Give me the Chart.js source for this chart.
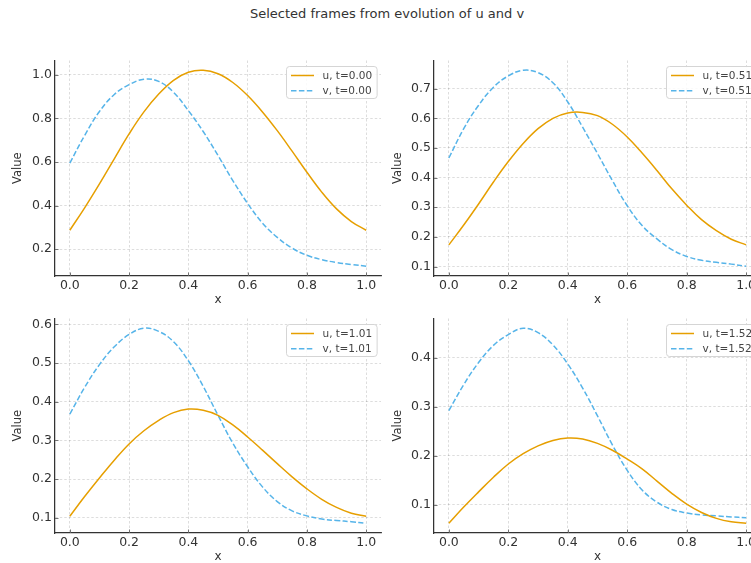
<!DOCTYPE html>
<html>
<head>
<meta charset="utf-8">
<script src="https://cdn.jsdelivr.net/npm/chart.js@4/dist/chart.umd.min.js"></script>
<style>
  html, body { margin: 0; padding: 0; background: #fff; }
  #fig { position: relative; width: 751px; height: 563px; overflow: hidden; background: #fff; }
  #title { position: absolute; left: 387px; top: 6px; transform: translateX(-50%); white-space: nowrap;
           font: 13px "DejaVu Sans", sans-serif; line-height: 16px; color: #333; }
  canvas { position: absolute; }
</style>
</head>
<body>
<div id="fig">
  <div id="title">Selected frames from evolution of u and v</div>
  <canvas id="p0" width="395" height="260" style="left:0px;top:50px"></canvas>
  <canvas id="p1" width="395" height="260" style="left:380px;top:50px"></canvas>
  <canvas id="p2" width="395" height="259" style="left:0px;top:308px"></canvas>
  <canvas id="p3" width="395" height="259" style="left:380px;top:308px"></canvas>
</div>
<script>
// Sample positions along x and tick values
const xValues = [0, 0.05, 0.1, 0.15, 0.2, 0.25, 0.3, 0.35, 0.4, 0.45, 0.5,
                 0.55, 0.6, 0.65, 0.7, 0.75, 0.8, 0.85, 0.9, 0.95, 1.0];
const xTicks = [0, 0.2, 0.4, 0.6, 0.8, 1.0];
const frameTimes = ['0.00', '0.51', '1.01', '1.52'];

// Frame t = 0.00
const u0 = [0.287, 0.39, 0.50, 0.615, 0.729, 0.83, 0.912, 0.975, 1.012, 1.021, 1.005,
            0.965, 0.905, 0.83, 0.744, 0.65, 0.553, 0.462, 0.385, 0.327, 0.287];
const v0 = [0.595, 0.722, 0.832, 0.91, 0.955, 0.98, 0.97, 0.92, 0.836, 0.74, 0.63,
            0.515, 0.41, 0.32, 0.254, 0.205, 0.172, 0.152, 0.139, 0.13, 0.122];
// Frame t = 0.51
const u1 = [0.173, 0.24, 0.311, 0.385, 0.454, 0.515, 0.565, 0.600, 0.618, 0.620, 0.609,
            0.580, 0.537, 0.483, 0.424, 0.362, 0.307, 0.258, 0.221, 0.192, 0.173];
const v1 = [0.466, 0.565, 0.644, 0.705, 0.743, 0.762, 0.754, 0.72, 0.655, 0.57, 0.481,
            0.39, 0.305, 0.238, 0.193, 0.157, 0.134, 0.121, 0.114, 0.108, 0.101];
// Frame t = 1.01
const u2 = [0.104, 0.155, 0.203, 0.249, 0.291, 0.325, 0.352, 0.372, 0.381, 0.378, 0.365,
            0.34, 0.309, 0.275, 0.24, 0.206, 0.175, 0.148, 0.127, 0.112, 0.104];
const v2 = [0.368, 0.437, 0.496, 0.542, 0.574, 0.590, 0.582, 0.555, 0.506, 0.44, 0.365,
            0.293, 0.232, 0.18, 0.142, 0.118, 0.105, 0.097, 0.093, 0.09, 0.086];
// Frame t = 1.52
const u3 = [0.062, 0.095, 0.126, 0.156, 0.183, 0.204, 0.220, 0.231, 0.236, 0.234, 0.225,
            0.211, 0.193, 0.173, 0.148, 0.123, 0.101, 0.084, 0.072, 0.065, 0.062];
const v3 = [0.292, 0.345, 0.39, 0.425, 0.447, 0.46, 0.451, 0.426, 0.387, 0.338, 0.281,
            0.222, 0.17, 0.13, 0.105, 0.09, 0.083, 0.079, 0.077, 0.075, 0.073];

const yTicks0 = [0.2, 0.4, 0.6, 0.8, 1.0];
const yTicks1 = [0.1, 0.2, 0.3, 0.4, 0.5, 0.6, 0.7];
const yTicks2 = [0.1, 0.2, 0.3, 0.4, 0.5, 0.6];
const yTicks3 = [0.1, 0.2, 0.3, 0.4];

const ORANGE = '#E69F00';
const BLUE = '#56B4E9';
const TEXT = '#333';
const FONT = '"DejaVu Sans", sans-serif';

// Legend drawn inside the plot area, top-right corner
const insideLegend = {
  id: 'insideLegend',
  afterDatasetsDraw(chart) {
    const { ctx, chartArea } = chart;
    const sets = chart.data.datasets;
    ctx.save();
    ctx.font = '10.5px ' + FONT;
    const tw = Math.max(...sets.map(d => ctx.measureText(d.label).width));
    const w = 36 + tw + 5, h = 32;
    const x = Math.round(chartArea.right - 4.5 - w) + 0.5;
    const y = Math.round(chartArea.top + 5) + 0.5;
    ctx.beginPath();
    ctx.roundRect(x, y, w, h, 3);
    ctx.fillStyle = 'rgba(255,255,255,0.85)';
    ctx.fill();
    ctx.strokeStyle = '#d5d5d5';
    ctx.lineWidth = 1;
    ctx.stroke();
    sets.forEach((d, i) => {
      const cy = y + 9 + i * 15.3;
      ctx.beginPath();
      ctx.setLineDash(d.borderDash || []);
      ctx.strokeStyle = d.borderColor;
      ctx.lineWidth = 1.5;
      ctx.moveTo(x + 4.5, cy);
      ctx.lineTo(x + 27.5, cy);
      ctx.stroke();
      ctx.setLineDash([]);
      ctx.fillStyle = '#444';
      ctx.textBaseline = 'middle';
      ctx.textAlign = 'left';
      ctx.fillText(d.label, x + 36, cy + 0.5);
    });
    ctx.restore();
  }
};

// Short inward tick marks on the left and bottom spines
const innerTicks = {
  id: 'innerTicks',
  afterDraw(chart) {
    const { ctx, chartArea, scales } = chart;
    ctx.save();
    ctx.strokeStyle = '#666';
    ctx.lineWidth = 0.9;
    ctx.beginPath();
    scales.x.ticks.forEach(t => {
      const px = Math.round(scales.x.getPixelForValue(t.value)) + 0.5;
      ctx.moveTo(px, chartArea.bottom);
      ctx.lineTo(px, chartArea.bottom - 3.5);
    });
    scales.y.ticks.forEach(t => {
      const py = Math.round(scales.y.getPixelForValue(t.value)) + 0.5;
      ctx.moveTo(chartArea.left, py);
      ctx.lineTo(chartArea.left + 3.5, py);
    });
    ctx.stroke();
    ctx.restore();
  }
};

function makePanel(id, u, v, t, yTicks, yAxisWidth) {
  const all = u.concat(v);
  const lo = Math.min(...all), hi = Math.max(...all);
  const pad = (hi - lo) * 0.05;
  const gridOpts = { color: 'rgba(0,0,0,0.17)', lineWidth: 0.8, drawTicks: false };
  const borderOpts = { display: true, color: '#333', width: 1.25, dash: [2.5, 2] };
  return new Chart(document.getElementById(id), {
    type: 'line',
    data: {
      datasets: [
        { label: 'u, t=' + t, data: xValues.map((x, i) => ({ x, y: u[i] })),
          borderColor: ORANGE, borderWidth: 1.5, pointRadius: 0, tension: 0.4, fill: false },
        { label: 'v, t=' + t, data: xValues.map((x, i) => ({ x, y: v[i] })),
          borderColor: BLUE, borderWidth: 1.5, borderDash: [5.5, 2.4], pointRadius: 0,
          tension: 0.4, fill: false }
      ]
    },
    options: {
      responsive: false,
      animation: false,
      devicePixelRatio: 1,
      layout: { padding: { left: 0, right: 14, top: 10, bottom: 0 } },
      plugins: { legend: { display: false }, tooltip: { enabled: false } },
      scales: {
        x: {
          type: 'linear', min: -0.05, max: 1.05,
          afterBuildTicks: s => { s.ticks = xTicks.map(value => ({ value })); },
          afterFit: s => { s.height = 34; },
          ticks: { callback: val => Number(val).toFixed(1), color: TEXT,
                   font: { family: FONT, size: 12.5 }, padding: 2, maxRotation: 0, autoSkip: false },
          grid: gridOpts, border: borderOpts,
          title: { display: true, text: 'x', color: TEXT,
                   font: { family: FONT, size: 12 }, padding: { top: 0, bottom: 3 } }
        },
        y: {
          type: 'linear', min: lo - pad, max: hi + pad,
          afterBuildTicks: s => { s.ticks = yTicks.map(value => ({ value })); },
          afterFit: s => { s.width = yAxisWidth; },
          ticks: { callback: val => Number(val).toFixed(1), color: TEXT,
                   font: { family: FONT, size: 12.5 }, padding: 3, autoSkip: false },
          grid: gridOpts, border: borderOpts,
          title: { display: true, text: 'Value', color: TEXT,
                   font: { family: FONT, size: 11.5 }, padding: { top: 11, bottom: 0 } }
        }
      }
    },
    plugins: [insideLegend, innerTicks]
  });
}

makePanel('p0', u0, v0, frameTimes[0], yTicks0, 55);
makePanel('p1', u1, v1, frameTimes[1], yTicks1, 54);
makePanel('p2', u2, v2, frameTimes[2], yTicks2, 55);
makePanel('p3', u3, v3, frameTimes[3], yTicks3, 54);
</script>
</body>
</html>
